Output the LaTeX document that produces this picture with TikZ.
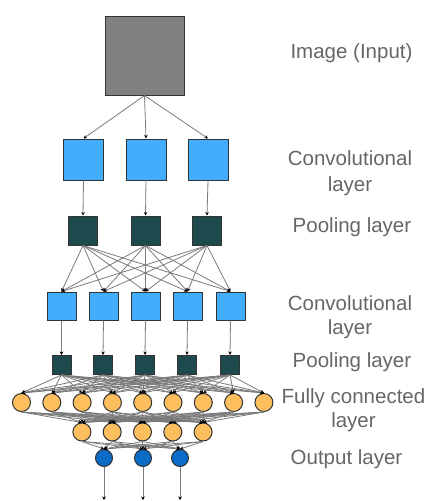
\documentclass[tikz,border=0pt]{standalone}
\usepackage{fontspec}
\setmainfont{Liberation Sans}
\usetikzlibrary{arrows.meta}

\definecolor{imggray}{HTML}{808080}
\definecolor{convblue}{HTML}{42ADFC}
\definecolor{pooldark}{HTML}{1E4A4D}
\definecolor{fcorange}{HTML}{FDBF5E}
\definecolor{outblue}{HTML}{0B6CC8}
\definecolor{edgegray}{HTML}{7A7A7A}
\definecolor{textgray}{HTML}{666666}

\tikzset{
  box/.style={draw=black!80, line width=1pt, inner sep=0pt},
  inbox/.style={box, fill=imggray, minimum width=79pt, minimum height=79pt},
  convbig/.style={box, fill=convblue, minimum width=40pt, minimum height=41pt},
  poolbig/.style={box, fill=pooldark, minimum size=29pt},
  convsmall/.style={box, fill=convblue, minimum width=29pt, minimum height=28pt},
  poolsmall/.style={box, fill=pooldark, minimum size=19pt},
  fcnode/.style={box, circle, fill=fcorange, minimum size=18pt},
  outnode/.style={box, circle, fill=outblue, minimum size=17pt},
  link/.style={draw=edgegray, line width=0.8pt,
    -{Stealth[length=3.5pt,width=3.5pt,color=black]}},
  lbl/.style={text=textgray, inner sep=0pt, align=center,
    font=\fontsize{20.5}{26}\selectfont}
}

\begin{document}
\begin{tikzpicture}[x=1pt,y=-1pt]
  \useasboundingbox (0,0) rectangle (428,501);

  % layers
  \node[inbox] (img) at (144.5,55.5) {};
  \foreach \x [count=\i] in {83.5,146,208}
    \node[convbig] (ca\i) at (\x,159.5) {};
  \foreach \x [count=\i] in {83,145.5,207}
    \node[poolbig] (pa\i) at (\x,230.5) {};
  \foreach \x [count=\i] in {61.5,103.5,145.5,187.5,230.5}
    \node[convsmall] (cb\i) at (\x,306) {};
  \foreach \x [count=\i] in {61.5,103,145,187,230}
    \node[poolsmall] (pb\i) at (\x,365) {};
  \foreach \i in {1,...,9}
    \node[fcnode] (fa\i) at ({21.5+30.3*(\i-1)},402.5) {};
  \foreach \i in {1,...,5}
    \node[fcnode] (fb\i) at ({81.9+30.3*(\i-1)},432) {};
  \foreach \x [count=\i] in {104,143,180} {
    \node[outnode] (out\i) at (\x,458) {};
    \coordinate (end\i) at (\x,500);
  }

  % connections
  \foreach \i in {1,2,3} {
    \draw[link] (img.south) -- (ca\i.north);
    \draw[link] (ca\i.south) -- (pa\i.north);
    \foreach \j in {1,...,5}
      \draw[link] (pa\i.south) -- (cb\j.north);
  }
  \foreach \i in {1,...,5} {
    \draw[link] (cb\i.south) -- (pb\i.north);
    \foreach \j in {1,...,9} {
      \draw[link] (pb\i.south) -- (fa\j.north);
      \draw[link] (fa\j.south) -- (fb\i.north);
    }
    \foreach \j in {1,2,3}
      \draw[link] (fb\i.south) -- (out\j.north);
  }
  \foreach \i in {1,2,3}
    \draw[link] (out\i.south) -- (end\i);

  % labels
  \node[lbl] (limg) at (351.5,53.6) {Image (Input)};
  \node[lbl] (lca) at (350,173.6) {Convolutional\\layer};
  \node[lbl] (lpa) at (352,227.6) {Pooling layer};
  \node[lbl] (lcb) at (350,316.7) {Convolutional\\[-2pt]layer};
  \node[lbl] (lpb) at (352,362.6) {Pooling layer};
  \node[lbl] (lfc) at (353.5,409.7) {Fully connected\\[-2pt]layer};
  \node[lbl] (lout) at (346.5,459.6) {Output layer};
\end{tikzpicture}
\end{document}
